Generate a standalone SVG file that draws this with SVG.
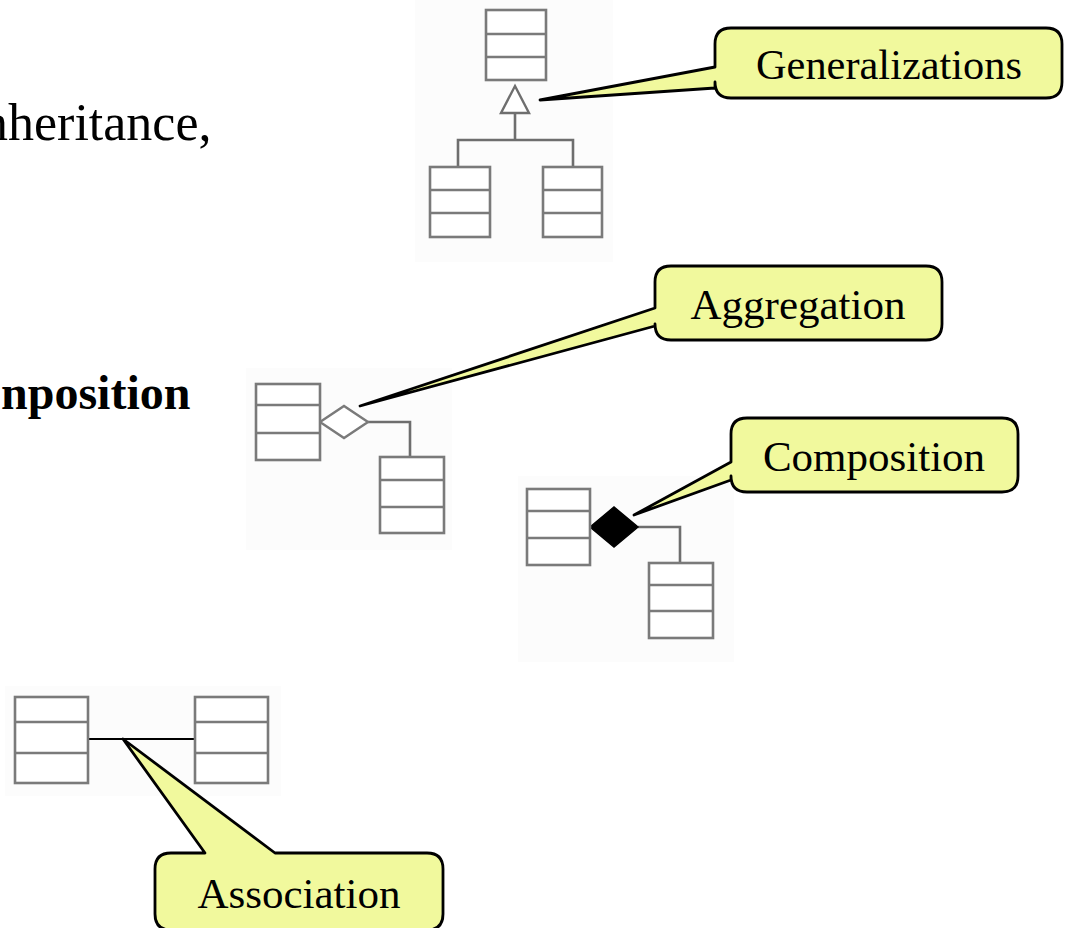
<svg xmlns="http://www.w3.org/2000/svg" width="1067" height="928" viewBox="0 0 1067 928">
<style>
.bg{fill:#fcfcfc}
.cls rect{fill:#fff;stroke:#7a7a7a;stroke-width:2.6}
.cls line{stroke:#7a7a7a;stroke-width:2.6}
.conn{fill:none;stroke:#6e6e6e;stroke-width:2.6}
.callout{fill:#f1f99d;stroke:#000;stroke-width:2.8;stroke-linejoin:round}
.ct{font-family:"Liberation Serif","Times New Roman",serif;font-size:43px;fill:#000;text-anchor:middle}
.body{font-family:"Liberation Serif","Times New Roman",serif;fill:#000}
</style>
<rect width="1067" height="928" fill="#fff"/>
<g id="backgrounds">
<rect class="bg" x="415" y="0" width="198" height="262"/>
<rect class="bg" x="246" y="368" width="206" height="182"/>
<rect class="bg" x="518" y="476" width="216" height="186"/>
<rect class="bg" x="5" y="686" width="276" height="110"/>
</g>
<g id="body-text">
<text class="body" x="-18" y="140" font-size="52">nheritance,</text>
<text class="body" x="1" y="409" font-size="48" font-weight="bold">nposition</text>
</g>
<g id="connectors">
<polyline class="conn" points="515,113 515,140"/>
<polyline class="conn" points="458,167 458,140 573,140 573,167"/>
<polygon points="515,86 529,113 501,113" fill="#fff" stroke="#6e6e6e" stroke-width="2.4"/>
<polyline class="conn" points="368,422 410,422 410,457"/>
<polygon points="320,422 344,406 368,422 344,438" fill="#fff" stroke="#7a7a7a" stroke-width="2.4"/>
<polyline class="conn" points="638,527 680,527 680,563"/>
<polygon points="590,527 614,507 638,527 614,547" fill="#000" stroke="#000" stroke-width="1.5"/>
<line x1="88" y1="739" x2="195" y2="739" stroke="#000" stroke-width="2"/>
</g>
<g id="gen-parent" class="cls"><rect x="486" y="10" width="60" height="70"/><line x1="486" y1="34" x2="546" y2="34"/><line x1="486" y1="57" x2="546" y2="57"/></g>
<g id="gen-child-left" class="cls"><rect x="430" y="167" width="60" height="70"/><line x1="430" y1="190" x2="490" y2="190"/><line x1="430" y1="213" x2="490" y2="213"/></g>
<g id="gen-child-right" class="cls"><rect x="543" y="167" width="59" height="70"/><line x1="543" y1="190" x2="602" y2="190"/><line x1="543" y1="213" x2="602" y2="213"/></g>
<g id="agg-whole" class="cls"><rect x="256" y="384" width="64" height="76"/><line x1="256" y1="405" x2="320" y2="405"/><line x1="256" y1="433" x2="320" y2="433"/></g>
<g id="agg-part" class="cls"><rect x="380" y="457" width="64" height="76"/><line x1="380" y1="480" x2="444" y2="480"/><line x1="380" y1="507" x2="444" y2="507"/></g>
<g id="comp-whole" class="cls"><rect x="527" y="489" width="63" height="76"/><line x1="527" y1="511" x2="590" y2="511"/><line x1="527" y1="538" x2="590" y2="538"/></g>
<g id="comp-part" class="cls"><rect x="649" y="563" width="64" height="75"/><line x1="649" y1="585" x2="713" y2="585"/><line x1="649" y1="611" x2="713" y2="611"/></g>
<g id="assoc-left" class="cls"><rect x="15" y="697" width="73" height="86"/><line x1="15" y1="722" x2="88" y2="722"/><line x1="15" y1="753" x2="88" y2="753"/></g>
<g id="assoc-right" class="cls"><rect x="195" y="697" width="73" height="86"/><line x1="195" y1="722" x2="268" y2="722"/><line x1="195" y1="753" x2="268" y2="753"/></g>
<g id="callout-generalizations">
<path class="callout" d="M731,28 H1046 Q1062,28 1062,44 V82 Q1062,98 1046,98 H731 Q715,98 715,82 V88 L540,100 L715,67 V44 Q715,28 731,28 Z"/>
<text class="ct" x="889" y="79" textLength="266" lengthAdjust="spacingAndGlyphs" font-size="45">Generalizations</text>
</g>
<g id="callout-aggregation">
<path class="callout" d="M671,266 H926 Q942,266 942,282 V324 Q942,340 926,340 H671 Q655,340 655,324 V326 L360,406 L655,308 V282 Q655,266 671,266 Z"/>
<text class="ct" x="798" y="319">Aggregation</text>
</g>
<g id="callout-composition">
<path class="callout" d="M747,418 H1002 Q1018,418 1018,434 V476 Q1018,492 1002,492 H747 Q731,492 731,476 V480 L634,515 L731,462 V434 Q731,418 747,418 Z"/>
<text class="ct" x="874" y="471">Composition</text>
</g>
<g id="callout-association">
<path class="callout" d="M171,853 H205 L123,739 L275,853 H427 Q443,853 443,869 V914 Q443,930 427,930 H171 Q155,930 155,914 V869 Q155,853 171,853 Z"/>
<text class="ct" x="299" y="908">Association</text>
</g>
</svg>
